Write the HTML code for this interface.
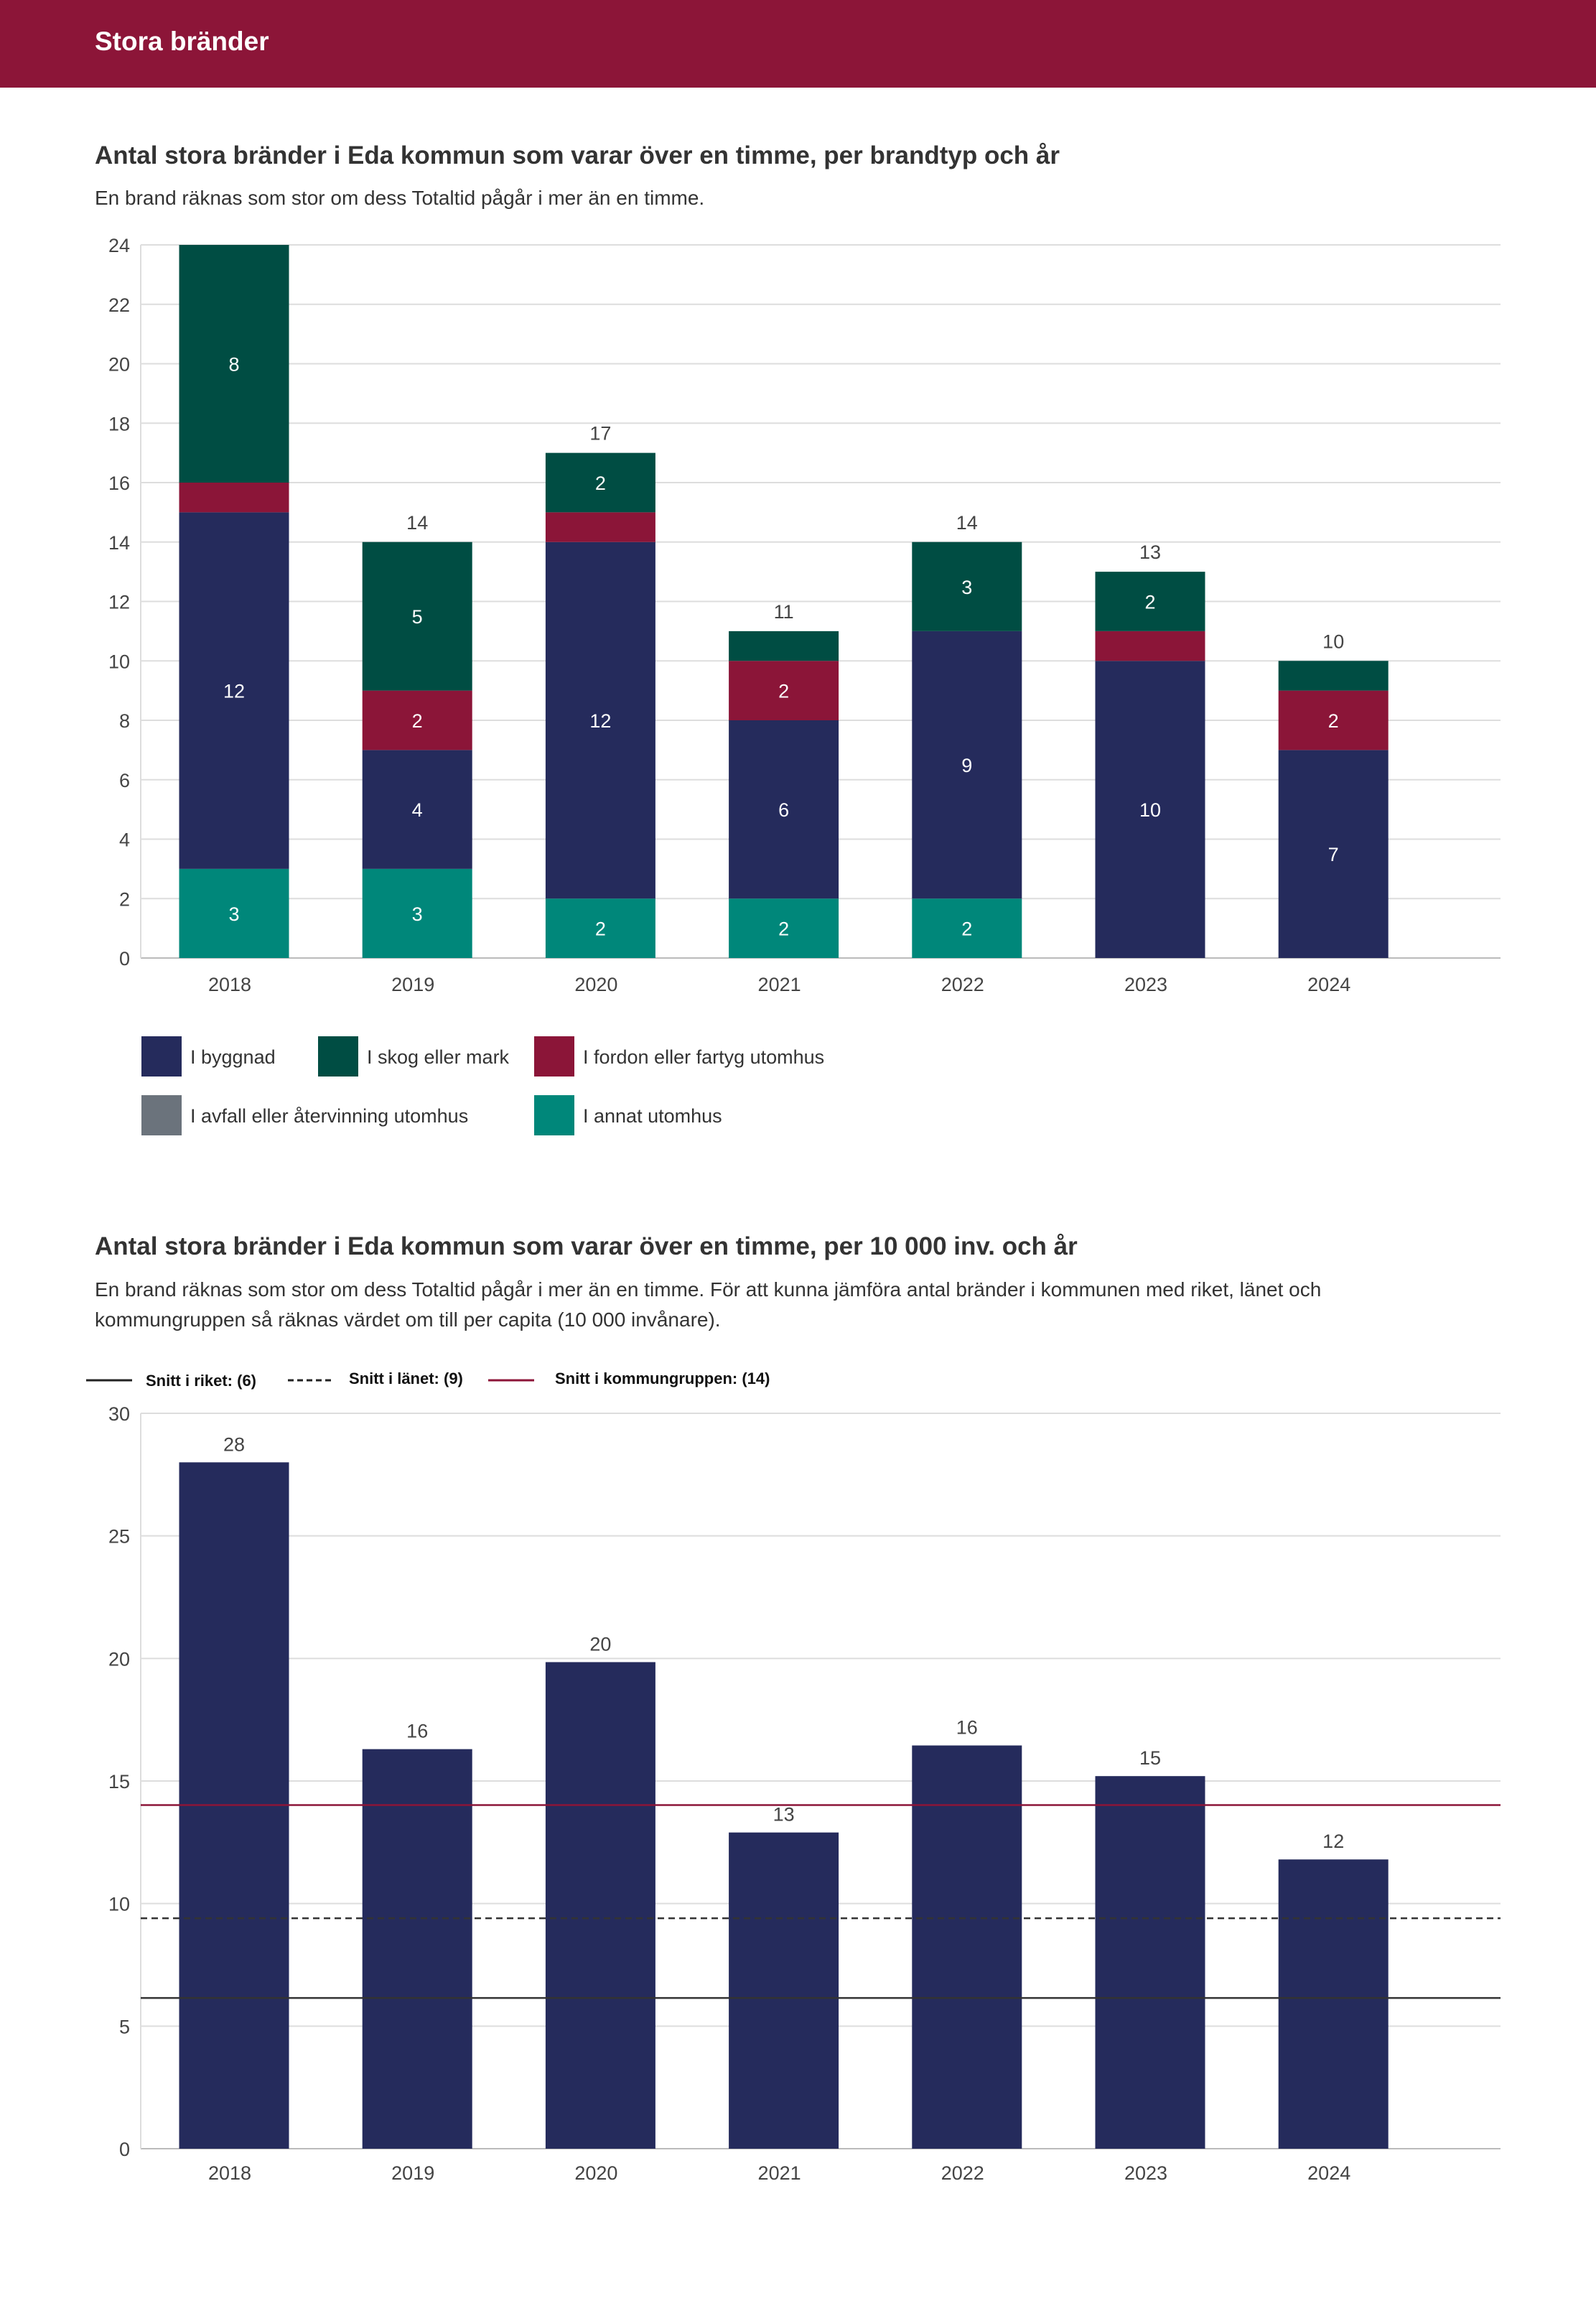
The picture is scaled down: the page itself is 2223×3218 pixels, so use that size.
<!DOCTYPE html>
<html><head><meta charset="utf-8"><style>
html,body{margin:0;padding:0;background:#fff;}
body{width:2223px;height:3213px;overflow:hidden;font-family:"Liberation Sans",sans-serif;}
svg text{font-family:"Liberation Sans",sans-serif;}
</style></head><body>
<svg id="page" width="2223" height="3213" viewBox="0 0 2223 3213" xmlns="http://www.w3.org/2000/svg">
<rect x="0" y="0" width="2223" height="122" fill="#8c1538"/>
<text x="132" y="70" font-size="37" font-weight="bold" fill="#fff">Stora bränder</text>
<text x="132" y="228" font-size="35" font-weight="bold" fill="#333">Antal stora bränder i Eda kommun som varar över en timme, per brandtyp och år</text>
<text x="132" y="285" font-size="28" fill="#333">En brand räknas som stor om dess Totaltid pågår i mer än en timme.</text>
<g id="c1"></g>
<g id="leg1"></g>
<text x="132" y="1747" font-size="35" font-weight="bold" fill="#333">Antal stora bränder i Eda kommun som varar över en timme, per 10 000 inv. och år</text>
<text x="132" y="1805" font-size="28" fill="#333">En brand räknas som stor om dess Totaltid pågår i mer än en timme. För att kunna jämföra antal bränder i kommunen med riket, länet och</text>
<text x="132" y="1847" font-size="28" fill="#333">kommungruppen så räknas värdet om till per capita (10 000 invånare).</text>
<g>
<line x1="120" y1="1922" x2="184" y2="1922" stroke="#222" stroke-width="3"/>
<text x="203" y="1930" font-size="22" font-weight="bold" fill="#111">Snitt i riket: (6)</text>
<line x1="401" y1="1922" x2="464" y2="1922" stroke="#222" stroke-width="3" stroke-dasharray="8,5"/>
<text x="486" y="1927" font-size="22" font-weight="bold" fill="#111">Snitt i länet: (9)</text>
<line x1="680" y1="1922" x2="744" y2="1922" stroke="#8c1538" stroke-width="3"/>
<text x="773" y="1927" font-size="22" font-weight="bold" fill="#111">Snitt i kommungruppen: (14)</text>
</g>
<g id="c2"></g>
</svg>
<script>
const years = ["2018","2019","2020","2021","2022","2023","2024"];
const annat = [3,3,2,2,2,0,0];
const byggnad = [12,4,12,6,9,10,7];
const fordon = [1,2,1,2,0,1,2];
const avfall = [0,0,0,0,0,0,0];
const skog = [8,5,2,1,3,2,1];
const ticks1 = [0,2,4,6,8,10,12,14,16,18,20,22,24];
const perCapita = [28.0,16.3,19.85,12.9,16.45,15.2,11.8];
const perCapitaLabels = ["28","16","20","13","16","15","12"];
const ticks2 = [0,5,10,15,20,25,30];
const snittRiket = [6.15];
const snittLanet = [9.4];
const snittKommungrupp = [14.02];

const NS="http://www.w3.org/2000/svg";
function mk(parent,tag,attrs,txt){const e=document.createElementNS(NS,tag);for(const k in attrs)e.setAttribute(k,attrs[k]);if(txt!==undefined)e.textContent=txt;parent.appendChild(e);return e;}
const X0=196,X1=2090,STEP=255.2,BW=153,FIRST=326;
function xc(i){return FIRST+i*STEP;}

// Chart 1
const c1=document.getElementById('c1');
const y1=v=>1334-(1334-341)*v/24;
ticks1.forEach(t=>{
  const l=mk(c1,'line',{x1:X0,x2:X1,y1:y1(t),y2:y1(t),stroke:t===0?'#bbb':'#ddd','stroke-width':2});
  
  
  const tx=mk(c1,'text',{x:181,y:y1(t)+10,'font-size':27,fill:'#444','text-anchor':'end'},t);
  
  
});
const ax1=mk(c1,'line',{x1:X0,x2:X0,y1:341,y2:1334,stroke:'#ddd','stroke-width':2});


const series=[[annat,'#00877a','annat'],[byggnad,'#252b5c','byggnad'],[fordon,'#8b1538','fordon'],[avfall,'#6b737c','avfall'],[skog,'#004d43','skog']];
years.forEach((yr,i)=>{
  let base=0;
  series.forEach(([arr,col,nm])=>{
    const v=arr[i];
    if(v>0){
      const r=mk(c1,'rect',{x:xc(i)-BW/2,y:y1(base+v),width:BW,height:y1(base)-y1(base+v),fill:col});
      
      
      if(v>=2){
        const t=mk(c1,'text',{x:xc(i),y:(y1(base)+y1(base+v))/2+10,'font-size':27,fill:'#fff','text-anchor':'middle'},v);
        
        
      }
    }
    base+=v;
  });
  if(base<24){
    const t=mk(c1,'text',{x:xc(i),y:y1(base)-18,'font-size':27,fill:'#444','text-anchor':'middle'},base);
    
    
  }
  const xl=mk(c1,'text',{x:xc(i)-6,y:1380,'font-size':27,fill:'#444','text-anchor':'middle'},yr);
  
  
});

// Legend 1
const leg1=document.getElementById('leg1');
const legItems=[['I byggnad','#252b5c',197,1471],['I skog eller mark','#004d43',443,1471],['I fordon eller fartyg utomhus','#8b1538',744,1471],['I avfall eller återvinning utomhus','#6b737c',197,1553],['I annat utomhus','#00877a',744,1553]];
legItems.forEach(([lb,col,x,y])=>{
  const r=mk(leg1,'rect',{x:x,y:y-28,width:56,height:56,fill:col});
  
  
  const t=mk(leg1,'text',{x:x+68,y:y+10,'font-size':27,fill:'#333'},lb);
  
  
});

// Chart 2
const c2=document.getElementById('c2');
const y2=v=>2992-(2992-1968)*v/30;
ticks2.forEach(t=>{
  const l=mk(c2,'line',{x1:X0,x2:X1,y1:y2(t),y2:y2(t),stroke:t===0?'#bbb':'#ddd','stroke-width':2});
  
  
  const tx=mk(c2,'text',{x:181,y:y2(t)+10,'font-size':27,fill:'#444','text-anchor':'end'},t);
  
  
});
const ax2=mk(c2,'line',{x1:X0,x2:X0,y1:1968,y2:2992,stroke:'#ddd','stroke-width':2});


years.forEach((yr,i)=>{
  const v=perCapita[i];
  const r=mk(c2,'rect',{x:xc(i)-BW/2,y:y2(v),width:BW,height:y2(0)-y2(v),fill:'#252b5c'});
  
  
  const t=mk(c2,'text',{x:xc(i),y:y2(v)-16,'font-size':27,fill:'#444','text-anchor':'middle'},perCapitaLabels[i]);
  
  
  const xl=mk(c2,'text',{x:xc(i)-6,y:3035,'font-size':27,fill:'#444','text-anchor':'middle'},yr);
  
  
});
const lr=mk(c2,'line',{x1:X0,x2:X1,y1:y2(snittRiket[0]),y2:y2(snittRiket[0]),stroke:'#333','stroke-width':2.5});


const ll=mk(c2,'line',{x1:X0,x2:X1,y1:y2(snittLanet[0]),y2:y2(snittLanet[0]),stroke:'#333','stroke-width':2.5,'stroke-dasharray':'9,6'});


const lk=mk(c2,'line',{x1:X0,x2:X1,y1:y2(snittKommungrupp[0]),y2:y2(snittKommungrupp[0]),stroke:'#8c1538','stroke-width':2.5});


</script>
</body></html>
